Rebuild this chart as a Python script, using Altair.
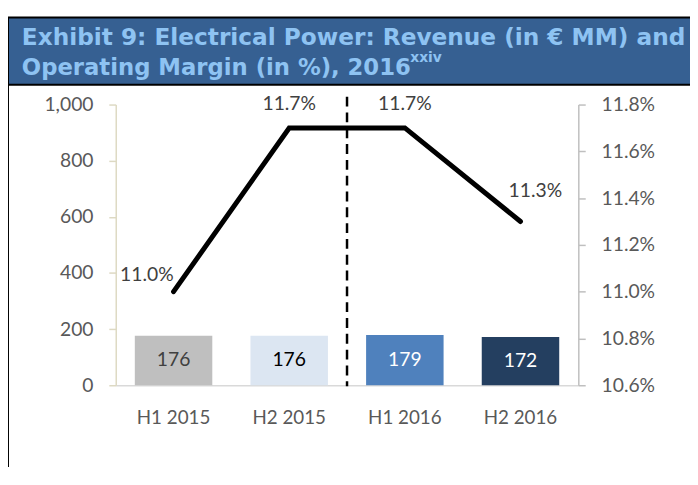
import altair as alt
import pandas as pd

periods = ["H1 2015", "H2 2015", "H1 2016", "H2 2016"]
revenue = [176, 176, 179, 172]
margin = [11.0, 11.7, 11.7, 11.3]
margin_labels = ["11.0%", "11.7%", "11.7%", "11.3%"]
bar_colors = ["#BFBFBF", "#DCE6F2", "#4F81BD", "#243F60"]
bar_text_colors = ["#404040", "#000000", "#FFFFFF", "#FFFFFF"]
left_ticks = [0, 200, 400, 600, 800, 1000]
right_ticks = [10.6, 10.8, 11.0, 11.2, 11.4, 11.6, 11.8]
title_line1 = "Exhibit 9: Electrical Power: Revenue (in € MM) and"
title_line2 = "Operating Margin (in %), 2016"
title_sup = "xxiv"

df = pd.DataFrame({
    "period": periods,
    "revenue": revenue,
    "margin": margin,
    "mlabel": margin_labels,
    "tcolor": bar_text_colors,
})

W, H = 468, 284
FONT = "Lato"
LBL = "#595959"

x_axis = alt.Axis(title=None, labelFont=FONT, labelFontSize=19, labelColor=LBL,
                  ticks=False, labelPadding=24, domainColor="#D9D9D9",
                  domainWidth=1.5, labelAngle=0)
x_enc = alt.X("period:N", sort=periods,
              scale=alt.Scale(paddingInner=0.33, paddingOuter=0.165), axis=x_axis)

left_axis = alt.Axis(title=None, values=left_ticks,
                     labelExpr="format(datum.value, ',')", grid=False,
                     labelFont=FONT, labelFontSize=19.5, labelColor=LBL,
                     labelPadding=16, tickSize=7, domainColor="#DDD9C3",
                     tickColor="#DDD9C3", domainWidth=1.5, tickWidth=1.5)
left_scale = alt.Scale(domain=[0, 1000])

right_axis = alt.Axis(title=None, orient="right", values=right_ticks,
                      labelExpr="format(datum.value, '.1f') + '%'", grid=False,
                      labelFont=FONT, labelFontSize=19.5, labelColor=LBL,
                      labelPadding=16, tickSize=7, domainColor="#BFBFBF",
                      tickColor="#BFBFBF", domainWidth=1.5, tickWidth=1.5)
right_scale = alt.Scale(domain=[10.6, 11.8], zero=False, nice=False)

base = alt.Chart(df)

bars = base.mark_bar().encode(
    x=x_enc,
    y=alt.Y("revenue:Q", scale=left_scale, axis=left_axis),
    color=alt.Color("period:N", sort=periods,
                    scale=alt.Scale(domain=periods, range=bar_colors), legend=None),
)

bar_text = base.transform_calculate(half="datum.revenue / 2").mark_text(
    font=FONT, fontSize=19.5, baseline="middle", align="center"
).encode(
    x=x_enc,
    y=alt.Y("half:Q", scale=left_scale, axis=left_axis),
    text=alt.Text("revenue:Q", format="d"),
    color=alt.Color("tcolor:N", scale=None),
)

left = alt.layer(bars, bar_text)

line = base.mark_line(color="black", strokeWidth=5, strokeCap="round").encode(
    x=x_enc, y=alt.Y("margin:Q", scale=right_scale, axis=right_axis))

offsets = [(-27, -17), (0, -24), (0, -24), (15, -31)]
label_layers = []
for p, (dx, dy) in zip(periods, offsets):
    label_layers.append(
        base.transform_filter(alt.datum.period == p).mark_text(
            font=FONT, fontSize=19.5, color="#404040", dx=dx, dy=dy,
            align="center", baseline="middle"
        ).encode(
            x=x_enc,
            y=alt.Y("margin:Q", scale=right_scale, axis=right_axis),
            text="mlabel:N",
        )
    )

right = alt.layer(line, *label_layers)

one = alt.Chart(pd.DataFrame({"a": [0]}))

divider = one.mark_rule(color="black", strokeWidth=2.5, strokeDash=[10, 6]).encode(
    x=alt.value(W / 2), y=alt.value(-8), y2=alt.value(H + 1))

title_box = one.mark_rect(fill="#366092", stroke="black", strokeWidth=2).encode(
    x=alt.value(-109), x2=alt.value(640), y=alt.value(-88), y2=alt.value(-20))
frame_left = one.mark_rule(color="black", strokeWidth=2).encode(
    x=alt.value(-109), y=alt.value(-88), y2=alt.value(H + 110))

tstyle = dict(font="DejaVu Sans", fontWeight="bold", color="#8EC3F2", align="left",
              baseline="alphabetic")
t1 = one.mark_text(fontSize=23.5, **tstyle).encode(
    x=alt.value(-95), y=alt.value(-60), text=alt.value(title_line1))
t2 = one.mark_text(fontSize=23, **tstyle).encode(
    x=alt.value(-95), y=alt.value(-30), text=alt.value(title_line2))
t3 = one.mark_text(fontSize=14, **tstyle).encode(
    x=alt.value(298), y=alt.value(-43), text=alt.value(title_sup))

chart = alt.layer(left, right, divider, title_box, frame_left, t1, t2, t3).resolve_scale(
    y="independent", color="independent"
).properties(
    width=W, height=H,
    autosize=alt.AutoSizeParams(type="none"),
    padding={"left": 109, "top": 95, "right": 113, "bottom": 80},
).configure_view(stroke=None)

chart.save("out.html", embed_options={"renderer": "svg", "actions": False})
